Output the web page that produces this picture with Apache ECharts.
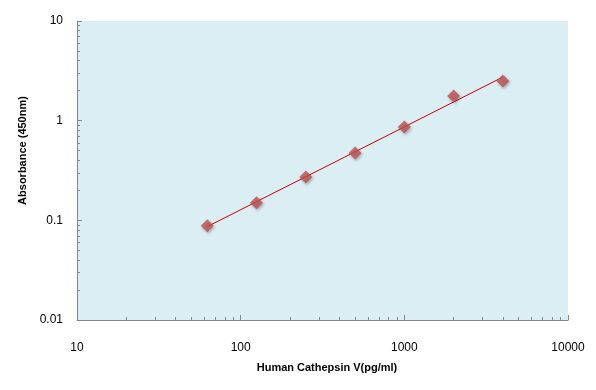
<!DOCTYPE html>
<html>
<head>
<meta charset="utf-8">
<script src="https://cdn.jsdelivr.net/npm/echarts@6/dist/echarts.min.js"></script>
<style>html,body{margin:0;padding:0;background:#fff;}#c{width:596px;height:390px;}</style>
</head>
<body>
<div id="c"></div>
<script>
// Data
var concentrations = [62.5, 125, 250, 500, 1000, 2000, 4000];
var absorbance = [0.088, 0.15, 0.272, 0.474, 0.865, 1.77, 2.50];
// Trend line (power fit) end points
var trendX = [62.5, 4000];
var trendY = [0.0865, 2.74];
// Tick values
var xMajorTicks = [10, 100, 1000, 10000];
var xMinorTicks = [20,30,40,50,60,70,80,90,200,300,400,500,600,700,800,900,2000,3000,4000,5000,6000,7000,8000,9000];
var yMajorTicks = [0.01, 0.1, 1, 10];
var yMinorTicks = [0.02,0.03,0.04,0.05,0.06,0.07,0.08,0.09,0.2,0.3,0.4,0.5,0.6,0.7,0.8,0.9,2,3,4,5,6,7,8,9];

var font = 'Liberation Sans, Arial, sans-serif';
var axisGray = '#868686';
var chart = echarts.init(document.getElementById('c'), null, {renderer: 'canvas'});

function pairs(xs, ys) { return xs.map(function (x, i) { return [x, ys[i]]; }); }

chart.setOption({
  animation: false,
  grid: {left: 77, right: 28, top: 21, bottom: 70, show: true, backgroundColor: '#DAEEF3', borderWidth: 0},
  xAxis: [{
    type: 'log', logBase: 10, min: 10, max: 10000,
    name: 'Human Cathepsin V(pg/ml)', nameLocation: 'middle', nameGap: 42,
    nameTextStyle: {fontFamily: font, fontSize: 11, fontWeight: 'bold', color: '#000', padding: [0, 0, 0, 9]},
    axisLine: {show: true, lineStyle: {color: axisGray, width: 1}},
    axisTick: {show: true, inside: true, length: 5, lineStyle: {color: axisGray}, customValues: xMajorTicks},
    axisLabel: {fontFamily: font, fontSize: 12, color: '#000', margin: 22, customValues: xMajorTicks, formatter: function (v) { return String(v); }},
    splitLine: {show: false}
  }, {
    type: 'log', logBase: 10, min: 10, max: 10000, position: 'bottom',
    axisLine: {show: false},
    axisTick: {show: true, inside: true, length: 3, lineStyle: {color: axisGray}, customValues: xMinorTicks},
    axisLabel: {show: false},
    splitLine: {show: false}
  }],
  yAxis: [{
    type: 'log', logBase: 10, min: 0.01, max: 10,
    name: 'Absorbance (450nm)', nameLocation: 'middle', nameGap: 48,
    nameTextStyle: {fontFamily: font, fontSize: 11, fontWeight: 'bold', color: '#000', padding: [0, 0, 0, 40]},
    axisLine: {show: true, lineStyle: {color: axisGray, width: 1}},
    axisTick: {show: true, inside: true, length: 5, lineStyle: {color: axisGray}, customValues: yMajorTicks},
    axisLabel: {fontFamily: font, fontSize: 12, color: '#000', margin: 14, customValues: yMajorTicks, formatter: function (v) { return String(v); }},
    splitLine: {show: false}
  }, {
    type: 'log', logBase: 10, min: 0.01, max: 10, position: 'left',
    axisLine: {show: false},
    axisTick: {show: true, inside: true, length: 3, lineStyle: {color: axisGray}, customValues: yMinorTicks},
    axisLabel: {show: false},
    splitLine: {show: false}
  }],
  series: [{
    type: 'line',
    data: pairs(trendX, trendY),
    symbol: 'none',
    lineStyle: {color: '#D00000', width: 1},
    silent: true,
    z: 2
  }, {
    type: 'scatter',
    data: pairs(concentrations, absorbance),
    symbol: 'diamond',
    symbolSize: [13, 13],
    itemStyle: {color: '#C0504D', shadowBlur: 3, shadowOffsetX: 1, shadowOffsetY: 1.5, shadowColor: 'rgba(0,0,0,0.35)'},
    z: 3
  }]
});
</script>
</body>
</html>
